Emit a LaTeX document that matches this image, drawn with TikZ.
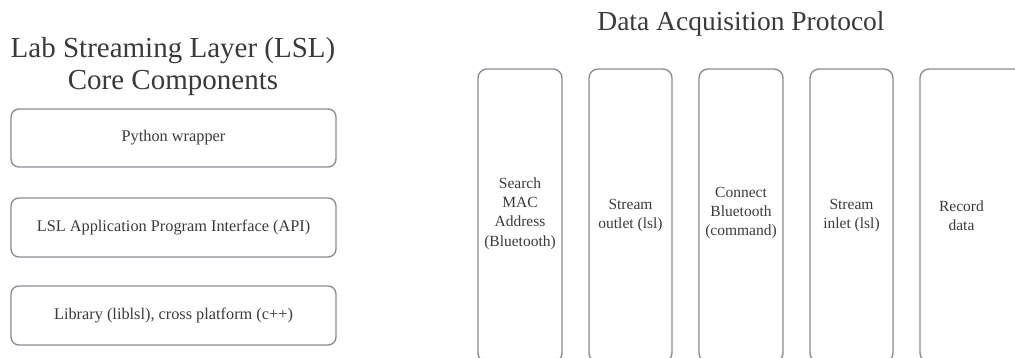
\documentclass[tikz,border=0pt]{standalone}
\usepackage{fontspec}
\setmainfont{Liberation Serif}
\definecolor{edge}{HTML}{8A8E96}
\definecolor{ink}{HTML}{3A3A3A}
\begin{document}
\begin{tikzpicture}[x=1pt,y=-1pt,
  layerbox/.style={draw=edge,line width=1.4pt,rounded corners=8pt},
  stepbox/.style={draw=edge,line width=1.4pt,rounded corners=9pt},
  layertext/.style={text=ink,font=\fontsize{16.3}{19}\selectfont},
  steptext/.style={text=ink,align=center,font=\fontsize{15.5}{19.2}\selectfont},
  titletext/.style={text=ink,align=center,font=\fontsize{27.5}{32}\selectfont}]
\useasboundingbox (0,0) rectangle (1015,358);
\clip (0,0) rectangle (1015,358);
% left titles
\node[titletext,font=\fontsize{29}{32}\selectfont] (ltitle) at (173,67) {Lab Streaming Layer (LSL)\\Core Components};
% left boxes
\draw[layerbox] (11,109) rectangle (336,167);
\node[layertext] (py) at (173.5,138) {Python wrapper};
\draw[layerbox] (11,198) rectangle (336,257);
\node[layertext] (api) at (173.5,227.5) {LSL Application Program Interface (API)};
\draw[layerbox] (11,286) rectangle (336,345);
\node[layertext] (lib) at (173.5,315.5) {Library (liblsl), cross platform (c++)};
% right title
\node[titletext] (rtitle) at (741,24) {Data Acquisition Protocol};
% right boxes
\draw[stepbox] (478,69) rectangle (562,362);
\node[steptext] (s1) at (520,213.5) {Search\\MAC\\Address\\(Bluetooth)};
\draw[stepbox] (589,69) rectangle (672,362);
\node[steptext] (s2) at (630.5,215.5) {Stream\\outlet (lsl)};
\draw[stepbox] (699,69) rectangle (783,362);
\node[steptext] (s3) at (741,213) {Connect\\Bluetooth\\(command)};
\draw[stepbox] (810,69) rectangle (893,362);
\node[steptext] (s4) at (851.5,215.5) {Stream\\inlet (lsl)};
\draw[stepbox] (920,69) rectangle (1040,362);
\node[steptext] (s5) at (961.5,215.5) {Record\\data};
\end{tikzpicture}
\end{document}
